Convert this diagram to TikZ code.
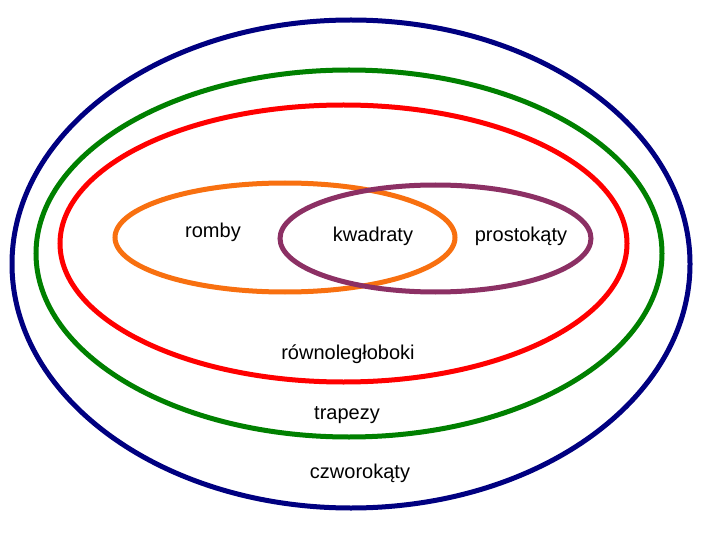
\documentclass[tikz,border=0pt]{standalone}
\usepackage{fontspec}
\setmainfont{Liberation Sans}
\definecolor{cnavy}{RGB}{0,0,128}
\definecolor{cgreen}{RGB}{0,128,0}
\definecolor{cred}{RGB}{255,0,0}
\definecolor{corange}{RGB}{248,112,16}
\definecolor{cpurple}{RGB}{140,48,100}
\begin{document}
\begin{tikzpicture}[x=1pt,y=-1pt,
  ring/.style={line width=5pt},
  lbl/.style={font=\fontsize{20}{22}\selectfont, inner sep=0pt}]
\useasboundingbox (0,0) rectangle (720,540);
\fill[white] (0,0) rectangle (720,540);
\draw[ring,cnavy] (351,264) ellipse [x radius=339, y radius=244];
\draw[ring,cgreen] (349,253.5) ellipse [x radius=313, y radius=183.5];
\draw[ring,cred] (343.5,243.5) ellipse [x radius=283.5, y radius=138.5];
\draw[ring,corange] (285,237.5) ellipse [x radius=170, y radius=54.5];
\draw[ring,cpurple] (435.5,238.5) ellipse [x radius=155.5, y radius=53.5];
\node[lbl] (romby) at (213,232) {romby};
\node[lbl] (kw) at (373,236) {kwadraty};
\node[lbl] (pr) at (521,236) {prostokąty};
\node[lbl] (rw) at (348,354) {równoległoboki};
\node[lbl] (tr) at (347,415) {trapezy};
\node[lbl] (cz) at (360,473) {czworokąty};
\end{tikzpicture}
\end{document}
